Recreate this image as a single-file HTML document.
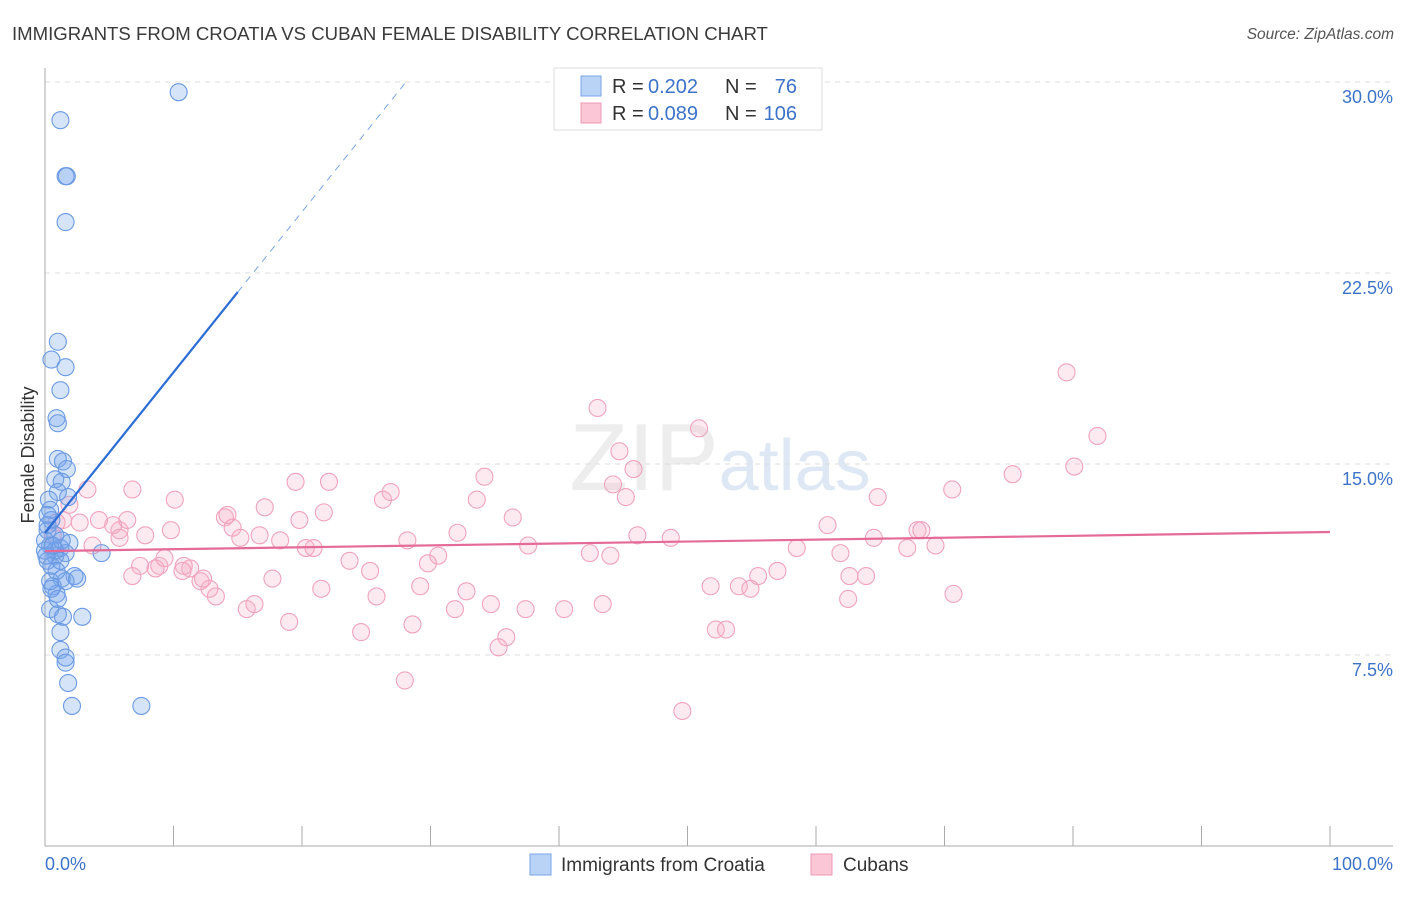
<!DOCTYPE html>
<html><head><meta charset="utf-8"><style>
body{margin:0;background:#fff;font-family:"Liberation Sans",sans-serif}
svg text{font-family:"Liberation Sans",sans-serif}
</style></head><body>
<svg id="chart" width="1406" height="892" xmlns="http://www.w3.org/2000/svg">
<text x="12" y="40" font-size="18.6" fill="#3a3a3a">IMMIGRANTS FROM CROATIA VS CUBAN FEMALE DISABILITY CORRELATION CHART</text>
<text x="1394" y="39" font-size="15.5" fill="#555" text-anchor="end" font-style="italic">Source: ZipAtlas.com</text>
<text x="720" y="490" font-size="96" text-anchor="middle" fill="#d8d8d8" font-family="Liberation Serif" opacity="0.45">ZIP<tspan fill="#b8cdea" font-family="Liberation Sans" font-size="72">atlas</tspan></text>
<g id="grid"></g>
<g id="axes"></g>
<g id="pts"></g>
<g id="lines"></g>
<text transform="translate(34,455) rotate(-90)" font-size="18" fill="#333" text-anchor="middle">Female Disability</text>
<g>
<rect x="554" y="68" width="268" height="62" fill="#fff" stroke="#ddd"/>
<rect x="581" y="76" width="20" height="20" fill="#b9d3f7" stroke="#7aa6e6"/>
<rect x="581" y="103" width="20" height="20" fill="#fbc7d6" stroke="#ee9ab4"/>
<text x="612" y="93" font-size="20" fill="#333">R =</text>
<text x="648" y="93" font-size="20" fill="#3d73c9">0.202</text>
<text x="725" y="93" font-size="20" fill="#333">N =</text>
<text x="797" y="93" font-size="20" fill="#3d73c9" text-anchor="end">76</text>
<text x="612" y="120" font-size="20" fill="#333">R =</text>
<text x="648" y="120" font-size="20" fill="#3d73c9">0.089</text>
<text x="725" y="120" font-size="20" fill="#333">N =</text>
<text x="797" y="120" font-size="20" fill="#3d73c9" text-anchor="end">106</text>
</g>
<g>
<rect x="530" y="854" width="21" height="21" fill="#b9d3f7" stroke="#7aa6e6"/>
<text x="561" y="871" font-size="19" fill="#333">Immigrants from Croatia</text>
<rect x="811" y="854" width="21" height="21" fill="#fbc7d6" stroke="#ee9ab4"/>
<text x="843" y="871" font-size="19" fill="#333">Cubans</text>
</g>
</svg>
<script>
const yTicks=[7.5,15,22.5,30];
const yTickLabels=["7.5%","15.0%","22.5%","30.0%"];
const xTickVals=[0,10,20,30,40,50,60,70,80,90,100];
const xEndLabels=["0.0%","100.0%"];
const blueX=[10.4,1.2,1.6,1.7,1.6,1.0,0.5,1.6,1.2,0.9,1.0,1.0,1.4,1.7,0.8,1.3,1.0,1.8,0.4,0.5,0.2,0.8,0.4,1.2,1.9,1.6,0.8,0.2,0.5,2.3,1.3,1.6,0.6,0.9,0.4,1.0,1.4,1.2,1.2,1.6,1.6,1.8,2.1,7.5,2.9,4.4,0.2,0.0,0.8,1.2,0.5,0.2,1.3,0.4,0,0.1,0.6,1.0,2.5,0.3,0.9];
const blueY=[29.6,28.5,26.3,26.3,24.5,19.8,19.1,18.8,17.9,16.8,16.6,15.2,15.1,14.8,14.4,14.3,13.9,13.7,13.2,12.8,12.4,12.2,11.8,11.7,11.9,11.5,11.4,11.2,11.0,10.6,10.5,10.4,10.2,9.9,9.3,9.1,9.0,8.4,7.7,7.4,7.2,6.4,5.5,5.5,9.0,11.5,12.6,11.6,11.6,11.2,10.1,13.0,12.0,10.4,12.0,11.4,11.8,9.7,10.5,13.6,10.8];
const pinkX=[79.5,81.9,43.0,50.9,44.7,45.8,80.1,75.3,70.6,64.8,44.2,45.2,34.2,33.6,19.5,22.1,26.3,26.9,10.1,6.8,3.3,17.1,19.8,21.7,14.0,14.2,14.6,15.2,16.7,18.3,20.3,20.9,23.7,25.3,28.2,30.6,29.8,32.1,36.4,37.6,42.4,44.0,46.1,48.7,58.5,60.9,61.9,64.5,67.1,67.9,68.2,69.3,62.6,63.9,62.5,70.7,57.0,55.5,54.0,54.9,51.8,52.2,53.0,49.6,43.4,40.4,37.4,34.7,32.8,31.9,35.9,35.3,28.6,28.0,24.6,25.8,29.2,21.5,19.0,17.7,15.7,16.3,13.3,12.8,12.1,12.3,11.3,10.8,8.9,8.6,9.3,7.4,6.8,7.8,9.8,5.8,5.3,6.4,4.2,2.7,1.9,1.4,0.9,0.6,3.7,5.8,10.7];
const pinkY=[18.6,16.1,17.2,16.4,15.5,14.8,14.9,14.6,14.0,13.7,14.2,13.7,14.5,13.6,14.3,14.3,13.6,13.9,13.6,14.0,14.0,13.3,12.8,13.1,12.9,13.0,12.5,12.1,12.2,12.0,11.7,11.7,11.2,10.8,12.0,11.4,11.1,12.3,12.9,11.8,11.5,11.4,12.2,12.1,11.7,12.6,11.5,12.1,11.7,12.4,12.4,11.8,10.6,10.6,9.7,9.9,10.8,10.6,10.2,10.1,10.2,8.5,8.5,5.3,9.5,9.3,9.3,9.5,10.0,9.3,8.2,7.8,8.7,6.5,8.4,9.8,10.2,10.1,8.8,10.5,9.3,9.5,9.8,10.1,10.4,10.5,10.9,11.0,11.0,10.9,11.3,11.0,10.6,12.2,12.4,12.4,12.6,12.8,12.8,12.7,13.4,12.8,12.7,12.2,11.8,12.1,10.8];
const blueFit=[12.3,0.63];
const pinkFit=[11.58,0.0075];
const X0=45,X1=1330,YB=846,YT=82;
const sx=v=>X0+(X1-X0)*v/100;
const sy=v=>YB-(YB-YT)*v/30;
const NS="http://www.w3.org/2000/svg";
function mk(tag,attrs,parent){const e=document.createElementNS(NS,tag);for(const k in attrs)e.setAttribute(k,attrs[k]);document.getElementById(parent).appendChild(e);return e;}
yTicks.forEach((t,i)=>{
  const g=mk('line',{x1:X0,x2:1393,y1:sy(t),y2:sy(t),stroke:'#ddd','stroke-dasharray':'5,5'},'grid');
  
  
  const l=mk('text',{x:1393,y:sy(t)+21,'font-size':18,fill:'#3d73c9','text-anchor':'end'},'axes');
  l.textContent=yTickLabels[i];
  
  
});
const ya=mk('line',{x1:X0,x2:X0,y1:68,y2:YB,stroke:'#aaa'},'axes');


const xa=mk('line',{x1:X0,x2:1393,y1:YB,y2:YB,stroke:'#aaa'},'axes');


xTickVals.forEach(v=>{
  const t=mk('line',{x1:sx(v),x2:sx(v),y1:826,y2:YB,stroke:'#aaa'},'axes');
  
  
});
[[0,'start',45],[100,'end',1393]].forEach((a,i)=>{
  const l=mk('text',{x:a[2],y:870,'font-size':18,fill:'#3d73c9','text-anchor':a[1]},'axes');
  l.textContent=xEndLabels[i];
  
  
});
pinkX.forEach((x,i)=>{
  const c=mk('circle',{cx:sx(x),cy:sy(pinkY[i]),r:8.5,fill:'rgba(248,175,200,0.28)',stroke:'#f0a3bd','stroke-width':1.1},'pts');
  
  
});
blueX.forEach((x,i)=>{
  const c=mk('circle',{cx:sx(x),cy:sy(blueY[i]),r:8.5,fill:'rgba(120,165,235,0.3)',stroke:'#6b9ae3','stroke-width':1.1},'pts');
  
  
});
const bf=x=>blueFit[0]+blueFit[1]*x, pf=x=>pinkFit[0]+pinkFit[1]*x;
let l1=mk('line',{x1:sx(0),y1:sy(bf(0)),x2:sx(15),y2:sy(bf(15)),stroke:'#2b6cd6','stroke-width':2.2},'lines');


let l2=mk('line',{x1:sx(15),y1:sy(bf(15)),x2:sx(28),y2:sy(bf(28)),stroke:'#7aa6e6','stroke-width':1,'stroke-dasharray':'7,6'},'lines');


let l3=mk('line',{x1:sx(0),y1:sy(pf(0)),x2:sx(100),y2:sy(pf(100)),stroke:'#e46a97','stroke-width':2.2},'lines');


</script>
</body></html>
